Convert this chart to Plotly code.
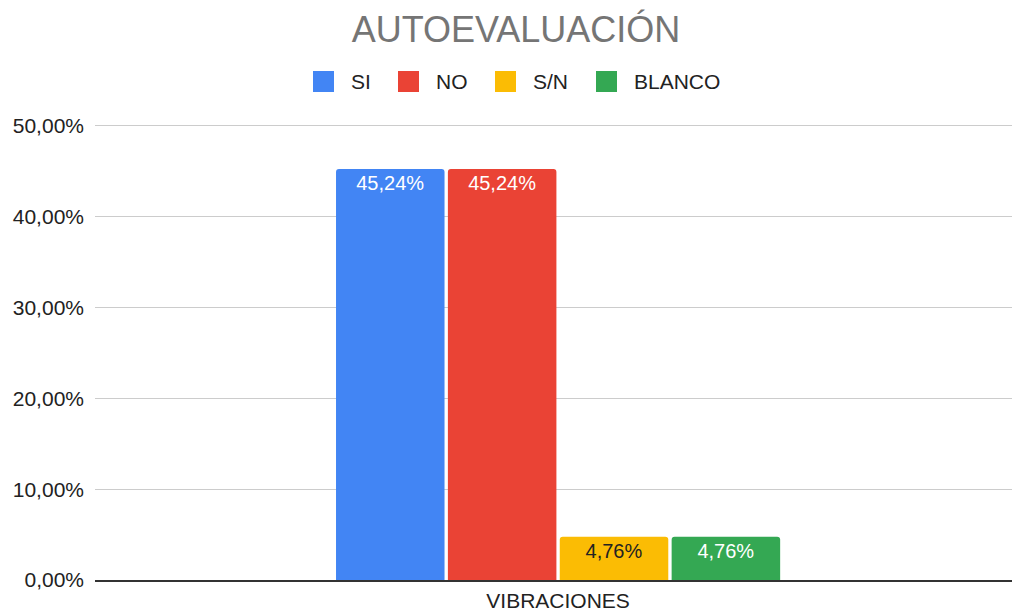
import plotly.graph_objects as go

categories = ["VIBRACIONES"]
series_names = ["SI", "NO", "S/N", "BLANCO"]
series_values = [[0.4524], [0.4524], [0.0476], [0.0476]]
series_colors = ["#4285F4", "#EA4335", "#FBBC04", "#34A853"]
label_colors = ["#FFFFFF", "#FFFFFF", "#222222", "#FFFFFF"]
ytick_vals = [0, 0.1, 0.2, 0.3, 0.4, 0.5]
ytick_text = ["0,00%", "10,00%", "20,00%", "30,00%", "40,00%", "50,00%"]

FONT = "Arial, 'Liberation Sans', sans-serif"
W, H = 1012, 612
ML, MR, MT, MB = 95, 0, 124, 32
PW, PH = W - ML - MR, H - MT - MB

def px_x(px):
    return (px - ML) / PW

def px_y(py):
    return (H - MB - py) / PH

fig = go.Figure()
for name, vals, col, lc in zip(series_names, series_values, series_colors, label_colors):
    fig.add_trace(go.Bar(
        name=name, x=categories, y=vals,
        marker=dict(color=col, line=dict(width=0), cornerradius=3),
        texttemplate="%{y:.2%}",
        textposition="inside", insidetextanchor="end", textangle=0,
        insidetextfont=dict(color=lc, size=20, family=FONT),
        showlegend=False,
    ))

# manual legend (layout positions in px)
legend_square_x = [313, 398, 495, 596]
legend_y_top, legend_size, legend_text_gap = 71, 21, 15
shapes = []
annotations = []
for name, col, x0 in zip(series_names, series_colors, legend_square_x):
    shapes.append(dict(type="rect", xref="paper", yref="paper",
                       x0=px_x(x0), x1=px_x(x0 + legend_size),
                       y0=px_y(legend_y_top + legend_size), y1=px_y(legend_y_top),
                       fillcolor=col, line=dict(width=0), layer="above"))
    annotations.append(dict(text=name, xref="paper", yref="paper",
                            x=px_x(x0 + legend_size + legend_text_gap),
                            y=px_y(legend_y_top + legend_size / 2),
                            xanchor="left", yanchor="middle", showarrow=False,
                            font=dict(size=21, color="#222222", family=FONT)))

fig.update_layout(
    width=W, height=H,
    separators=",.",
    paper_bgcolor="white", plot_bgcolor="white",
    font=dict(family=FONT, color="#222222", size=21),
    margin=dict(l=ML, r=MR, t=MT, b=MB, autoexpand=False),
    barmode="group", bargap=0.512, bargroupgap=0.03,
    title=dict(text="AUTOEVALUACIÓN", x=516 / W, xref="container", xanchor="center",
               y=1 - 29.5 / H, yref="container", yanchor="middle",
               font=dict(size=36, color="#757575", family=FONT)),
    showlegend=False,
    shapes=shapes,
    annotations=annotations,
)
fig.update_yaxes(range=[0, 0.502], tickvals=ytick_vals, ticktext=ytick_text,
                 showgrid=True, gridcolor="#CCCCCC", gridwidth=1,
                 zeroline=False, showline=False, ticks="", ticklen=0,
                 ticklabelstandoff=10,
                 tickfont=dict(size=21, color="#222222", family=FONT))
fig.update_xaxes(showline=True, linecolor="#333333", linewidth=1.5,
                 range=[-0.505, 0.495],
                 ticklabelstandoff=1,
                 tickfont=dict(size=21, color="#222222", family=FONT), ticks="")

fig.write_html("out.html", config={"displayModeBar": False},
               post_script="document.body.style.margin='0';document.body.style.overflow='hidden';")
